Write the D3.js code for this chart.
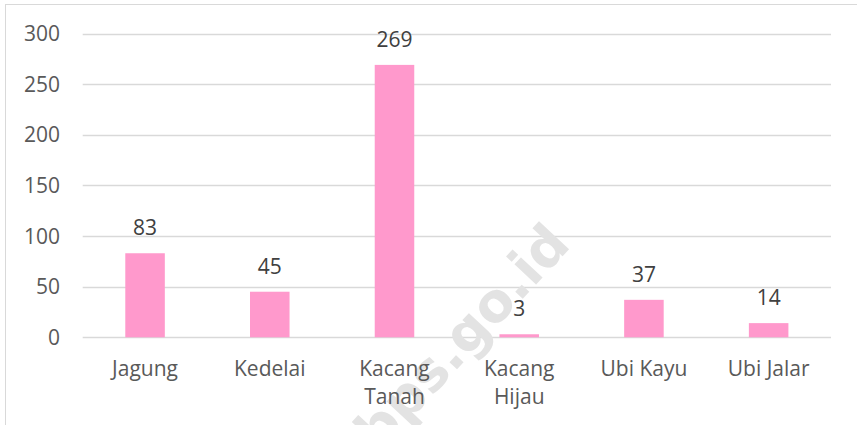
<!DOCTYPE html>
<html><head><meta charset="utf-8">
<script src="https://cdn.jsdelivr.net/npm/d3@7/dist/d3.min.js"></script>
<style>html,body{margin:0;padding:0;background:#fff;}svg{display:block;}</style>
</head><body>
<script>
const categories = [["Jagung"], ["Kedelai"], ["Kacang", "Tanah"], ["Kacang", "Hijau"], ["Ubi Kayu"], ["Ubi Jalar"]];
const values = [83, 45, 269, 3, 37, 14];
const yTicks = [0, 50, 100, 150, 200, 250, 300];

const W = 857, H = 425;
const svg = d3.select("body").append("svg").attr("width", W).attr("height", H);
const font = "'Open Sans', sans-serif";

// outer border
svg.append("rect").attr("x", 5.5).attr("y", 4.5).attr("width", W + 10).attr("height", H + 10)
  .attr("fill", "#fff").attr("stroke", "#d9d9d9").attr("stroke-width", 1);

const x = d3.scaleBand().domain(d3.range(categories.length)).range([82.7, 831]).paddingInner(0.683).paddingOuter(0.3415);
const y = d3.scaleLinear().domain([0, 300]).range([337.3, 33.5]);

// gridlines
svg.append("g").selectAll("line").data(yTicks).join("line")
  .attr("x1", 82.7).attr("x2", 831)
  .attr("y1", d => Math.round(y(d)) + 0.5).attr("y2", d => Math.round(y(d)) + 0.5)
  .attr("stroke", "#d9d9d9").attr("stroke-width", 1.5);

// y tick labels
svg.append("g").selectAll("text").data(yTicks).join("text")
  .attr("x", 60).attr("y", d => y(d)).attr("dy", "0.36em")
  .attr("text-anchor", "end").attr("font-family", font).attr("font-size", 21)
  .attr("fill", "#595959").text(d => d);

// watermark
svg.append("text")
  .attr("transform", "translate(572,246) rotate(-47)")
  .attr("text-anchor", "end").attr("font-family", "'DejaVu Sans', sans-serif").attr("font-weight", "bold")
  .attr("font-size", 54).attr("fill", "#e3e3e3")
  .text("b.bps.go.id");

// bars
svg.append("g").selectAll("rect").data(values).join("rect")
  .attr("x", (d, i) => x(i)).attr("width", x.bandwidth())
  .attr("y", d => y(d)).attr("height", d => y(0) - y(d))
  .attr("fill", "#ff99cc");

// value labels
svg.append("g").selectAll("text").data(values).join("text")
  .attr("x", (d, i) => x(i) + x.bandwidth() / 2).attr("y", d => y(d) - 18)
  .attr("text-anchor", "middle").attr("font-family", font).attr("font-size", 21)
  .attr("fill", "#404040").text(d => d);

// category labels
const cg = svg.append("g").selectAll("text").data(categories).join("text")
  .attr("x", (d, i) => x(i) + x.bandwidth() / 2).attr("y", 376)
  .attr("text-anchor", "middle").attr("font-family", font).attr("font-size", 21)
  .attr("fill", "#595959");
cg.selectAll("tspan").data(d => d).join("tspan")
  .attr("x", function() { return d3.select(this.parentNode).attr("x"); })
  .attr("dy", (d, i) => i === 0 ? 0 : 27.5).text(d => d);
</script>
</body></html>
